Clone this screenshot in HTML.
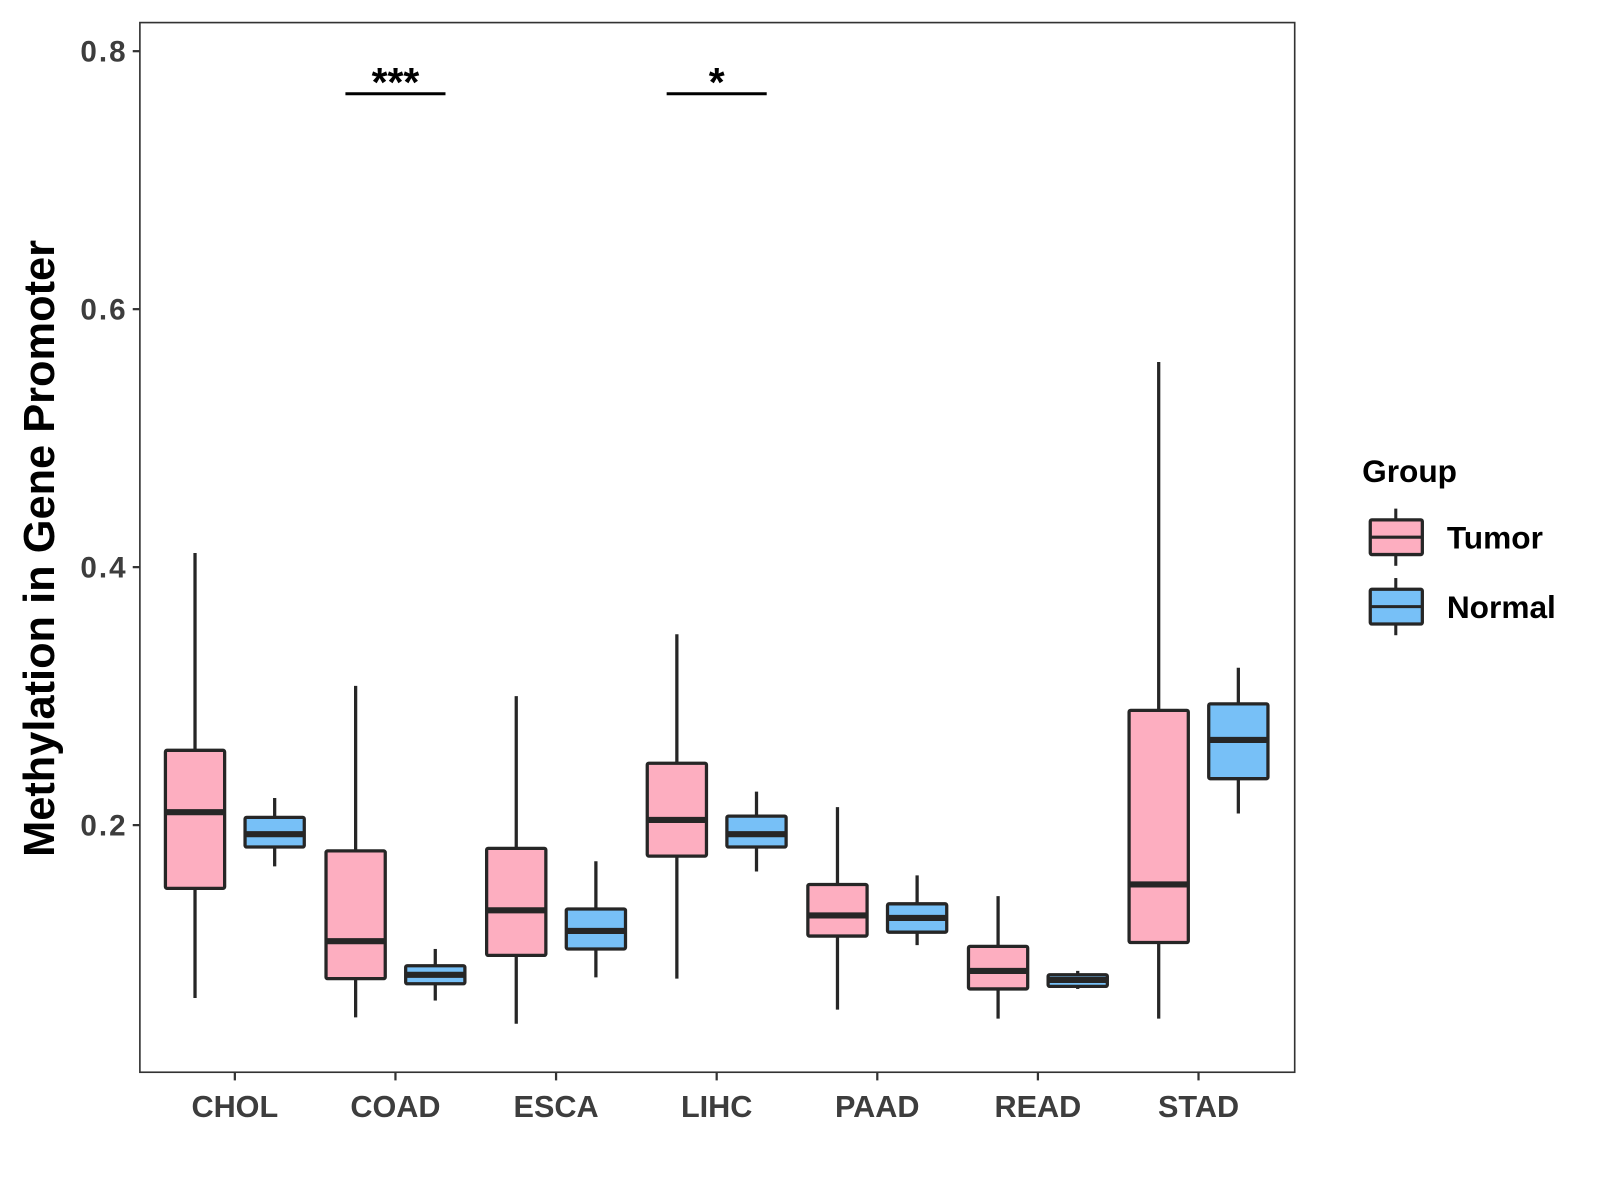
<!DOCTYPE html>
<html><head><meta charset="utf-8"><style>
html,body{margin:0;padding:0;background:#fff;}
svg{display:block;font-family:"Liberation Sans",Arial,sans-serif;}
</style></head><body>
<svg id="chart" width="1600" height="1200" viewBox="0 0 1567 1175" xmlns="http://www.w3.org/2000/svg">
<rect width="1567" height="1175" fill="#fff"/>
<g id="plot"></g>
</svg>
<script>
const categories = ["CHOL","COAD","ESCA","LIHC","PAAD","READ","STAD"];
// [min, q1, median, q3, max]
const tumorStats = [
 [0.066,0.151,0.210,0.258,0.411],
 [0.051,0.081,0.110,0.180,0.308],
 [0.046,0.099,0.134,0.182,0.300],
 [0.081,0.176,0.204,0.248,0.348],
 [0.057,0.114,0.130,0.154,0.214],
 [0.050,0.073,0.087,0.106,0.145],
 [0.050,0.109,0.154,0.289,0.559]
];
const normalStats = [
 [0.168,0.183,0.193,0.206,0.221],
 [0.064,0.077,0.084,0.091,0.104],
 [0.082,0.104,0.118,0.135,0.172],
 [0.164,0.183,0.193,0.207,0.226],
 [0.107,0.117,0.128,0.139,0.161],
 [0.073,0.075,0.080,0.084,0.087],
 [0.209,0.236,0.266,0.294,0.322]
];
const yTicks = [0.2,0.4,0.6,0.8];
const yTickLabels = ["0.2","0.4","0.6","0.8"];
const sigCategories = ["COAD","LIHC"];
const sigLabels = ["***","*"];
const sigLevel = 0.767;

const NS="http://www.w3.org/2000/svg";
const g=document.getElementById('plot');
const L=137,R=1268,T=22,B=1050;
const y=v=>50+(0.8-v)*1263.3;
const x=i=>230+i*157.3;
function mk(tag,attrs,parent){const e=document.createElementNS(NS,tag);for(const k in attrs)e.setAttribute(k,attrs[k]);(parent||g).appendChild(e);return e;}

const panel=mk('rect',{x:L,y:T,width:R-L,height:B-T,fill:'none',stroke:'#333','stroke-width':1.6});



yTicks.forEach((v,i)=>{
 const t=mk('line',{x1:L-7,x2:L,y1:y(v),y2:y(v),stroke:'#333','stroke-width':2.2});
 
 
 const lb=mk('text',{x:L-12,y:y(v)+10,'text-anchor':'end','font-size':29,'letter-spacing':2,'font-weight':'bold',fill:'#3d3d3d'});
 lb.textContent=yTickLabels[i];
 
 
});
categories.forEach((c,i)=>{
 const t=mk('line',{x1:x(i),x2:x(i),y1:B,y2:B+8,stroke:'#333','stroke-width':2.2});
 
 
 const lb=mk('text',{x:x(i),y:B+44,'text-anchor':'middle','font-size':30,'font-weight':'bold',fill:'#3d3d3d'});
 lb.textContent=c;
 
 
});

function box(cx,s,fill,name){
 const grp=mk('g',{});
 
 
 const w=58;
 mk('line',{x1:cx,x2:cx,y1:y(s[4]),y2:y(s[0]),stroke:'#262626','stroke-width':3.2},grp);
 mk('rect',{x:cx-w/2,y:y(s[3]),width:w,height:Math.max(0,y(s[1])-y(s[3])),fill:fill,stroke:'#262626','stroke-width':3.2,rx:1.5},grp);
 mk('line',{x1:cx-w/2,x2:cx+w/2,y1:y(s[2]),y2:y(s[2]),stroke:'#262626','stroke-width':6},grp);
}
categories.forEach((c,i)=>{
 box(x(i)-39,tumorStats[i],'#fdaec0','box-tumor-'+c.toLowerCase());
 box(x(i)+39,normalStats[i],'#77c0f7','box-normal-'+c.toLowerCase());
});

sigCategories.forEach((c,k)=>{
 const i=categories.indexOf(c);
 const ln=mk('line',{x1:x(i)-49,x2:x(i)+49,y1:y(sigLevel),y2:y(sigLevel),stroke:'#000','stroke-width':3});
 
 
 const tx=mk('text',{x:x(i),y:y(sigLevel)+2,'text-anchor':'middle','font-size':40,'font-weight':'bold',fill:'#000'});
 tx.textContent=sigLabels[k];
 
 
});

const yt=mk('text',{x:0,y:0,transform:'translate(53,537) rotate(-90)','text-anchor':'middle','font-size':42.5,'font-weight':'bold',fill:'#000'});
yt.textContent='Methylation in Gene Promoter';



const lt=mk('text',{x:1334,y:472,'font-size':31,'font-weight':'bold',fill:'#000'});
lt.textContent='Group';


[['Tumor','#fdaec0',526],['Normal','#77c0f7',594]].forEach(([n,f,cy])=>{
 const eg=mk('g',{});
 
 
 mk('line',{x1:1367,x2:1367,y1:cy-28,y2:cy+28,stroke:'#262626','stroke-width':3},eg);
 mk('rect',{x:1342,y:cy-17,width:51,height:34,fill:f,stroke:'#262626','stroke-width':3.2,rx:1.5},eg);
 mk('line',{x1:1342,x2:1393,y1:cy,y2:cy,stroke:'#262626','stroke-width':3},eg);
 const t=mk('text',{x:1417,y:cy+11,'font-size':31,'font-weight':'bold',fill:'#000'},eg);
 t.textContent=n;
});
</script>
</body></html>
